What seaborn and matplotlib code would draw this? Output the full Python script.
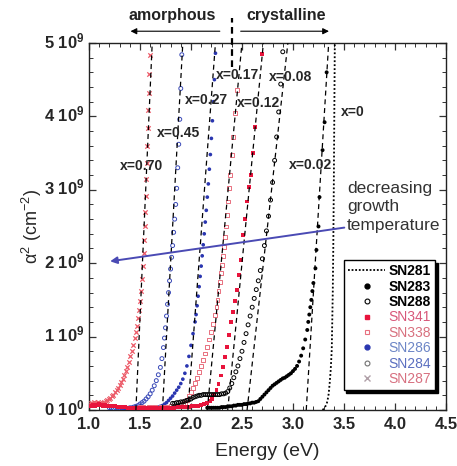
import numpy as np
import matplotlib
matplotlib.use("Agg")
import matplotlib.pyplot as plt
import matplotlib.transforms as mtransforms
import seaborn as sns
from matplotlib.lines import Line2D
from matplotlib.ticker import MultipleLocator

# ---------- data (energy in eV, alpha^2 in units of 1e9 cm^-2) ----------
e_287 = [1.00, 1.015, 1.03, 1.045, 1.06, 1.075, 1.09, 1.105, 1.12, 1.135, 1.15, 1.165, 1.18,
         1.195, 1.21, 1.225, 1.24, 1.255, 1.27, 1.285, 1.30, 1.315, 1.33, 1.345, 1.36, 1.375,
         1.39, 1.405, 1.42, 1.435, 1.45, 1.46, 1.47, 1.48, 1.49, 1.50, 1.51, 1.52, 1.53, 1.535,
         1.54, 1.545, 1.55, 1.555, 1.56, 1.565, 1.57, 1.575, 1.58, 1.585, 1.59, 1.595]
a_287 = [0.08, 0.10, 0.09, 0.11, 0.10, 0.09, 0.11, 0.10, 0.09, 0.10, 0.11, 0.12, 0.13,
         0.15, 0.17, 0.19, 0.21, 0.24, 0.27, 0.30, 0.34, 0.38, 0.42, 0.47, 0.53, 0.59,
         0.66, 0.73, 0.80, 0.88, 0.98, 1.06, 1.15, 1.25, 1.36, 1.48, 1.62, 1.78, 1.96, 2.14,
         2.32, 2.50, 2.70, 2.92, 3.14, 3.36, 3.60, 3.84, 4.08, 4.32, 4.58, 4.84]

e_284 = [1.20, 1.22, 1.24, 1.26, 1.28, 1.30, 1.32, 1.34, 1.36, 1.38, 1.40, 1.42, 1.44, 1.46,
         1.48, 1.50, 1.52, 1.54, 1.56, 1.58, 1.60, 1.62, 1.64, 1.66, 1.68, 1.70, 1.715, 1.73,
         1.74, 1.75, 1.76, 1.77, 1.78, 1.79, 1.80, 1.81, 1.82, 1.83, 1.84, 1.85, 1.86, 1.87,
         1.88, 1.89, 1.90, 1.91]
a_284 = [0.03, 0.03, 0.02, 0.03, 0.03, 0.02, 0.03, 0.03, 0.03, 0.02, 0.03, 0.03, 0.04, 0.05,
         0.06, 0.08, 0.10, 0.12, 0.15, 0.18, 0.22, 0.27, 0.33, 0.40, 0.48, 0.58, 0.70, 0.85,
         0.98, 1.12, 1.28, 1.44, 1.60, 1.76, 1.92, 2.08, 2.24, 2.42, 2.60, 2.80, 3.02, 3.30,
         3.62, 3.96, 4.38, 4.84]

e_286 = [1.30, 1.325, 1.35, 1.375, 1.40, 1.425, 1.45, 1.475, 1.50, 1.525, 1.55, 1.575, 1.60,
         1.625, 1.65, 1.675, 1.70, 1.72, 1.74, 1.76, 1.78, 1.80, 1.82, 1.84, 1.86, 1.88, 1.90,
         1.92, 1.94, 1.96, 1.98, 2.00, 2.02, 2.04, 2.05, 2.06, 2.07, 2.08, 2.09, 2.10, 2.11,
         2.12, 2.13, 2.14, 2.15, 2.16, 2.17, 2.18, 2.19, 2.20, 2.21, 2.22, 2.23, 2.24]
a_286 = [0.03, 0.03, 0.02, 0.03, 0.03, 0.03, 0.02, 0.03, 0.03, 0.03, 0.03, 0.02, 0.03,
         0.03, 0.03, 0.04, 0.05, 0.06, 0.08, 0.10, 0.13, 0.16, 0.19, 0.23, 0.27, 0.31, 0.36,
         0.42, 0.50, 0.60, 0.73, 0.88, 1.04, 1.20, 1.30, 1.42, 1.55, 1.68, 1.82, 1.96, 2.10,
         2.25, 2.40, 2.56, 2.72, 2.90, 3.08, 3.28, 3.48, 3.70, 3.94, 4.20, 4.50, 4.86]

e_338 = [1.50, 1.53, 1.56, 1.59, 1.62, 1.65, 1.68, 1.71, 1.74, 1.77, 1.80, 1.83, 1.86, 1.89,
         1.92, 1.94, 1.96, 1.98, 2.00, 2.02, 2.04, 2.06, 2.08, 2.10, 2.12, 2.14, 2.16, 2.18,
         2.20, 2.22, 2.24, 2.25, 2.26, 2.27, 2.28, 2.29, 2.30, 2.31, 2.32, 2.33, 2.34, 2.35,
         2.36, 2.37, 2.38, 2.40, 2.41, 2.43, 2.45]
a_338 = [0.04, 0.04, 0.03, 0.04, 0.04, 0.04, 0.03, 0.04, 0.04, 0.04, 0.05, 0.05, 0.06, 0.07,
         0.08, 0.10, 0.14, 0.19, 0.24, 0.30, 0.37, 0.44, 0.52, 0.60, 0.68, 0.77, 0.86, 0.96,
         1.06, 1.17, 1.30, 1.40, 1.50, 1.62, 1.74, 1.86, 1.98, 2.10, 2.22, 2.36, 2.50, 2.66,
         2.84, 3.02, 3.20, 3.47, 3.72, 4.05, 4.36]

e_341 = [1.00, 1.02, 1.04, 1.06, 1.08, 1.10, 1.12, 1.14, 1.16, 1.18, 1.20, 1.22, 1.24, 1.26,
         1.28, 1.30, 1.32, 1.35, 1.38, 1.41, 1.44, 1.47, 1.50, 1.53, 1.56, 1.59, 1.62, 1.65,
         1.68, 1.71, 1.74, 1.77, 1.80, 1.83, 1.86, 1.89, 1.92, 1.95, 1.98, 2.01, 2.04, 2.07,
         2.10, 2.13, 2.16, 2.19, 2.21, 2.23, 2.25, 2.27, 2.29, 2.31, 2.33, 2.35, 2.37, 2.39,
         2.41, 2.43, 2.45, 2.47, 2.49, 2.51, 2.53, 2.55, 2.57, 2.59, 2.61, 2.63, 2.70]
a_341 = [0.05, 0.06, 0.07, 0.06, 0.07, 0.08, 0.07, 0.06, 0.07, 0.06, 0.05, 0.06, 0.05, 0.05,
         0.04, 0.04, 0.04, 0.04, 0.03, 0.03, 0.03, 0.03, 0.03, 0.03, 0.03, 0.03, 0.03, 0.03,
         0.03, 0.03, 0.03, 0.03, 0.03, 0.03, 0.04, 0.04, 0.04, 0.04, 0.04, 0.05, 0.05, 0.06,
         0.07, 0.08, 0.10, 0.12, 0.15, 0.20, 0.27, 0.36, 0.47, 0.59, 0.72, 0.86, 1.02, 1.20,
         1.34, 1.48, 1.64, 1.84, 2.04, 2.38, 2.60, 2.84, 3.04, 3.20, 3.50, 3.86, 4.85]

e_288 = [1.82, 1.84, 1.86, 1.88, 1.90, 1.92, 1.94, 1.96, 1.98, 2.00, 2.02, 2.04, 2.06, 2.08,
         2.10, 2.12, 2.14, 2.16, 2.18, 2.20, 2.22, 2.24, 2.26, 2.28, 2.30, 2.32, 2.34, 2.36,
         2.38, 2.40, 2.42, 2.44, 2.46, 2.48, 2.50, 2.52, 2.54, 2.56, 2.58, 2.60, 2.62,
         2.64, 2.66, 2.68, 2.70, 2.72, 2.74, 2.76, 2.78, 2.80, 2.82, 2.84, 2.86, 2.88, 2.90]
a_288 = [0.09, 0.09, 0.10, 0.10, 0.11, 0.11, 0.12, 0.13, 0.14, 0.15, 0.17, 0.18, 0.19, 0.20,
         0.20, 0.21, 0.21, 0.21, 0.21, 0.21, 0.21, 0.21, 0.21, 0.21, 0.22, 0.22, 0.23, 0.25,
         0.30, 0.36, 0.44, 0.52, 0.60, 0.70, 0.80, 0.92, 1.04, 1.16, 1.28, 1.40, 1.52,
         1.64, 1.76, 1.90, 2.06, 2.24, 2.44, 2.64, 2.86, 3.10, 3.40, 3.72, 4.06, 4.44, 4.88]

e_283 = [2.16, 2.18, 2.20, 2.22, 2.24, 2.26, 2.28, 2.30, 2.32, 2.34, 2.36, 2.38, 2.40, 2.42,
         2.44, 2.46, 2.48, 2.50, 2.52, 2.54, 2.56, 2.58, 2.60, 2.62, 2.64, 2.66, 2.68, 2.70,
         2.72, 2.74, 2.76, 2.78, 2.80, 2.82, 2.84, 2.86, 2.88, 2.90, 2.92, 2.94, 2.96, 2.98,
         3.00, 3.02, 3.04, 3.06, 3.08, 3.10, 3.12, 3.14, 3.15, 3.16, 3.17, 3.18, 3.19, 3.20,
         3.22, 3.23, 3.25, 3.26, 3.29, 3.31, 3.33]
a_283 = [0.03, 0.03, 0.03, 0.03, 0.03, 0.03, 0.03, 0.04, 0.04, 0.04, 0.05, 0.05, 0.05, 0.06,
         0.06, 0.07, 0.07, 0.07, 0.08, 0.08, 0.09, 0.09, 0.10, 0.10, 0.11, 0.12, 0.15, 0.18,
         0.21, 0.24, 0.27, 0.30, 0.33, 0.35, 0.37, 0.39, 0.41, 0.43, 0.44, 0.46, 0.48, 0.50,
         0.53, 0.56, 0.60, 0.66, 0.74, 0.84, 0.96, 1.09, 1.20, 1.30, 1.40, 1.50, 1.62, 1.73,
         1.93, 2.18, 2.50, 2.90, 3.54, 3.92, 4.60]

e_281 = [3.29, 3.31, 3.33, 3.34, 3.35, 3.36, 3.37, 3.38, 3.385, 3.39, 3.395, 3.40, 3.405, 3.41]
a_281 = [0.00, 0.03, 0.08, 0.14, 0.22, 0.37, 0.55, 0.82, 1.20, 1.60, 2.20, 3.00, 4.00, 5.00]

# linear fits: energy where each dashed line meets alpha^2 = 0 and alpha^2 = 5e9
fit_e_bottom = [1.46, 1.72, 1.97, 2.16, 2.36, 2.55, 3.13]
fit_e_top = [1.62, 1.92, 2.24, 2.50, 2.71, 2.95, 3.35]

# composition labels (text, energy, alpha^2)
comp_text = ["x=0.70", "x=0.45", "x=0.27", "x=0.17", "x=0.12", "x=0.08", "x=0.02", "x=0"]
comp_e = [1.52, 1.88, 2.15, 2.46, 2.66, 2.98, 3.17, 3.59]
comp_a = [3.33, 3.77, 4.22, 4.56, 4.18, 4.54, 3.34, 4.06]

x_ticks = [1.0, 1.5, 2.0, 2.5, 3.0, 3.5, 4.0, 4.5]
y_ticks = [0, 1e9, 2e9, 3e9, 4e9, 5e9]
y_labels = ["0 10$^{0}$", "1 10$^{9}$", "2 10$^{9}$", "3 10$^{9}$", "4 10$^{9}$", "5 10$^{9}$"]

# ---------- style ----------
sns.set_style("ticks")
plt.rcParams["font.family"] = ["Liberation Sans", "DejaVu Sans"]
plt.rcParams["mathtext.default"] = "regular"

RED = "#e8143c"
PINK = "#e8707f"
XPINK = "#ec5a68"
BLUE = "#2a36b0"
BLUE2 = "#3a4ab8"

fig = plt.figure(figsize=(4.57, 4.66), dpi=100)
ax = fig.add_axes([0.1947, 0.1202, 0.7812, 0.7876])

def s(vals):
    return np.array(vals) * 1e9

# series (blue first, then red, then black on top)
sns.scatterplot(x=e_284, y=s(a_284), ax=ax, marker="o", s=8, color=BLUE2,
                facecolor="none", edgecolor=BLUE2, linewidth=0.7, legend=False, zorder=3)
sns.scatterplot(x=e_286, y=s(a_286), ax=ax, marker="o", s=7, color=BLUE,
                edgecolor="none", legend=False, zorder=3)
sns.scatterplot(x=e_338, y=s(a_338), ax=ax, marker="s", s=8, color=PINK,
                facecolor="none", edgecolor=PINK, linewidth=0.7, legend=False, zorder=3)
sns.scatterplot(x=e_287, y=s(a_287), ax=ax, marker="x", s=10, color=XPINK,
                linewidth=0.9, legend=False, zorder=3)
sns.scatterplot(x=e_341, y=s(a_341), ax=ax, marker="s", s=8, color=RED,
                edgecolor="none", legend=False, zorder=4)
sns.scatterplot(x=e_288, y=s(a_288), ax=ax, marker="o", s=8, color="black",
                facecolor="none", edgecolor="black", linewidth=0.7, legend=False, zorder=4)
sns.scatterplot(x=e_283, y=s(a_283), ax=ax, marker="o", s=8, color="black",
                edgecolor="none", legend=False, zorder=5)
sns.lineplot(x=e_281, y=s(a_281), ax=ax, color="black", linestyle=(0, (1, 1.2)),
             linewidth=1.3, sort=False, estimator=None, legend=False, zorder=5)

# dashed fit lines
for eb, et in zip(fit_e_bottom, fit_e_top):
    ax.plot([eb, et], [0, 5e9], color="black", linestyle=(0, (4, 3)), linewidth=0.9, zorder=6)

for t, ex, ay in zip(comp_text, comp_e, comp_a):
    ax.text(ex, ay * 1e9, t, fontsize=10, fontweight="bold", ha="center", va="center",
            zorder=7)

# amorphous / crystalline markers above the axes
ax.plot([2.40, 2.40], [4.67e9, 5.34e9], color="black", linestyle=(0, (3, 2)),
        linewidth=1.6, clip_on=False, zorder=7)
ax.annotate("", xy=(1.38, 5.16e9), xytext=(2.31, 5.16e9), annotation_clip=False,
            arrowprops=dict(arrowstyle="-|>", color="black", lw=0.8, mutation_scale=9))
ax.annotate("", xy=(3.38, 5.16e9), xytext=(2.46, 5.16e9), annotation_clip=False,
            arrowprops=dict(arrowstyle="-|>", color="black", lw=0.8, mutation_scale=9))
ax.text(1.82, 5.37e9, "amorphous", fontsize=11.5, fontweight="bold", ha="center",
        va="center", color="#222222")
ax.text(2.93, 5.37e9, "crystalline", fontsize=11.5, fontweight="bold", ha="center",
        va="center", color="#222222")

# growth temperature arrow
ax.annotate("", xy=(1.18, 2.02e9), xytext=(3.53, 2.49e9),
            arrowprops=dict(arrowstyle="-|>", color="#4a4ab4", lw=1.4, mutation_scale=10),
            zorder=8)
ax.text(3.53, 2.77e9, "decreasing\ngrowth\ntemperature", fontsize=12.5, ha="left",
        va="center", color="#333333", linespacing=1.3)

# axes
ax.set_xlim(1.0, 4.5)
ax.set_ylim(0, 5e9)
ax.set_xticks(x_ticks, [f"{v:.1f}" for v in x_ticks])
ax.set_yticks(y_ticks, y_labels)
ax.xaxis.set_minor_locator(MultipleLocator(0.1))
ax.yaxis.set_minor_locator(MultipleLocator(0.2e9))
ax.tick_params(which="both", direction="in", top=True, right=True, color="#333333")
ax.tick_params(which="major", length=5, width=0.9, labelsize=12)
ax.tick_params(axis="x", which="major", pad=5)
ax.tick_params(which="minor", length=3, width=0.7)
lift = mtransforms.ScaledTranslation(0, 2.5 / 72, fig.dpi_scale_trans)
for lab in ax.get_yticklabels():
    lab.set_fontweight("bold")
    lab.set_transform(lab.get_transform() + lift)
for lab in ax.get_xticklabels():
    lab.set_fontweight("bold")
for sp in ax.spines.values():
    sp.set_linewidth(1.0)
    sp.set_color("#222222")
ax.set_xlabel("Energy (eV)", fontsize=14, labelpad=8)
ax.set_ylabel(r"$\alpha^2$ (cm$^{-2}$)", fontsize=13, labelpad=0)

# legend
handles = [
    Line2D([], [], color="black", linestyle=(0, (1, 1)), linewidth=1.3),
    Line2D([], [], color="black", marker="o", linestyle="none", markersize=3.5),
    Line2D([], [], color="black", marker="o", markerfacecolor="none", linestyle="none",
           markersize=3.5, markeredgewidth=0.8),
    Line2D([], [], color=RED, marker="s", linestyle="none", markersize=3.5),
    Line2D([], [], color=PINK, marker="s", markerfacecolor="none", linestyle="none",
           markersize=3.5, markeredgewidth=0.8),
    Line2D([], [], color=BLUE, marker="o", linestyle="none", markersize=3.5),
    Line2D([], [], color="#707070", marker="o", markerfacecolor="none", linestyle="none",
           markersize=3.5, markeredgewidth=0.8),
    Line2D([], [], color="#b0a0a8", marker="x", linestyle="none", markersize=4),
]
leg_labels = ["SN281", "SN283", "SN288", "SN341", "SN338", "SN286", "SN284", "SN287"]
leg_colors = ["black", "black", "black", "#d8587a", "#d8707e", "#6d86c6", "#5b6fc0", "#d77080"]
leg = ax.legend(handles, leg_labels, loc="lower right", bbox_to_anchor=(0.969, 0.054),
                borderaxespad=0, fontsize=10, handlelength=2.7, handletextpad=0.2,
                labelspacing=0.1, borderpad=0.3, fancybox=False, framealpha=1,
                edgecolor="black", shadow={"color": "black", "alpha": 1})
leg.get_frame().set_linewidth(1.0)
for txt, c in zip(leg.get_texts(), leg_colors):
    txt.set_color(c)
    if c == "black":
        txt.set_fontweight("bold")

fig.savefig("out.png", dpi=100, facecolor="white")
